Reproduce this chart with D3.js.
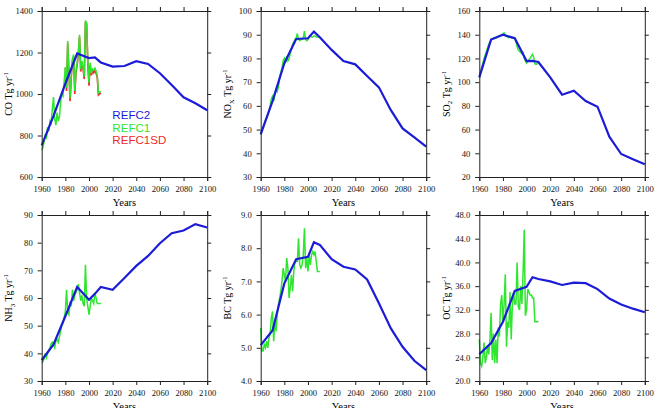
<!DOCTYPE html>
<html>
<head>
<meta charset="utf-8">
<script src="https://cdn.jsdelivr.net/npm/d3@7"></script>
<style>
  body { margin: 0; background: #fff; }
  text { font-family: "Liberation Serif", "Times New Roman", serif; fill: #000; }
</style>
</head>
<body>
<svg id="chart" width="656" height="408"></svg>
<script>
// REFC2 scenario years (blue) and REFC1 / REFC1SD annual years
const refc2Years = [1960, 1970, 1980, 1990, 2000, 2005, 2010, 2020, 2030, 2040, 2050, 2060, 2070, 2080, 2090, 2100];
const refc1Years = d3.range(1960, 2011);
const refc1sdYears = d3.range(1980, 2011);

const coRefc2  = [752, 895, 1050, 1195, 1173, 1176, 1152, 1132, 1135, 1158, 1145, 1100, 1043, 984, 955, 922];
const coRefc1  = [730, 740, 770, 800, 790, 840, 820, 870, 860, 930,
                  985, 880, 850, 910, 870, 890, 960, 1000, 990, 1060,
                  1130, 1030, 1255, 1120, 980, 1090, 1170, 1190, 1015, 1110,
                  1150, 1200, 1285, 1120, 1160, 1130, 1085, 1350, 1345, 1160,
                  1055, 1150, 1100, 1120, 1115, 1125, 1110, 1090, 1005, 1010, 1012];
const coRefc1sd = [1125, 1015, 1245, 1110, 965, 1080, 1160, 1180, 1000, 1100,
                   1140, 1195, 1275, 1108, 1150, 1120, 1072, 1340, 1335, 1150,
                   1040, 1140, 1090, 1110, 1102, 1115, 1100, 1080, 995, 1000, 1005];

const noxRefc2 = [48, 62, 78, 88.2, 88.5, 91.3, 88.9, 83.6, 78.9, 77.5, 72.6, 67.8, 58.3, 50.5, 46.7, 42.8];
const noxRefc1 = [48, 49.5, 51, 52.5, 54, 55, 56.5, 58, 60, 63,
                  64, 62, 65, 67, 66, 68, 72, 74, 76, 79,
                  80, 78, 81, 79, 80, 82, 84, 86, 87, 88,
                  88.5, 90.5, 88, 87.5, 88, 88, 88.5, 91.5, 88, 87.5,
                  88, 89, 89.5, 89, 89, 89.5, 89.5, 89, 89, 89, 89];

const so2Refc2 = [104, 136, 140, 137, 117.8, 118, 117, 104, 89.4, 92.8, 84, 79.3, 54, 39.4, 34.9, 30.7];
const so2Refc1 = [104, 108, 112, 116, 120, 123, 126, 129, 132, 134,
                  136, 136.5, 137, 137.5, 137, 138, 138.5, 139, 139.5, 140,
                  140.5, 141.5, 140, 138.5, 138, 137.5, 138, 137.5, 137, 137,
                  136.5, 134, 130, 127, 126, 125, 124, 125, 120, 118,
                  116, 118, 119, 120, 122, 123.5, 121, 115.5, 115, 115.5, 116];

const nh3Refc2 = [37.5, 43.2, 53.4, 64, 59.4, 61.5, 64, 63, 67.2, 71.6, 75.2, 79.8, 83.4, 84.4, 86.7, 85.5];
const nh3Refc1 = [36.5, 37, 38, 40, 38.5, 40, 41, 42, 43.5, 44,
                  43, 42, 44.5, 45, 44, 46, 48, 50, 51, 53,
                  55, 63, 55, 54, 58, 57, 63, 59, 61, 62,
                  63, 65, 62, 59, 61, 58, 57, 72, 60, 57,
                  54, 57, 60, 59, 58, 62, 60, 58, 58, 58, 58];

const bcRefc2 = [5.08, 5.52, 6.94, 7.67, 7.74, 8.18, 8.1, 7.67, 7.44, 7.36, 7.06, 6.34, 5.59, 5.03, 4.61, 4.33];
const bcRefc1 = [5.6, 4.9, 4.9, 5.1, 5.0, 5.2, 5.0, 5.3, 5.4, 5.9,
                 6.1, 5.2, 5.8, 5.5, 6.0, 6.3, 6.5, 6.7, 7.0, 7.4,
                 7.2, 7.0, 7.7, 7.4, 6.5, 6.8, 7.2, 6.7, 7.3, 7.6,
                 7.6, 7.6, 8.3, 7.5, 7.4, 7.5, 7.8, 8.6, 7.4, 7.7,
                 7.3, 7.8, 7.5, 7.8, 7.9, 7.8, 7.9, 7.6, 7.3, 7.3, 7.3];

const ocRefc2 = [24.5, 26.4, 30, 35.2, 35.9, 37.5, 37.2, 36.8, 36.2, 36.6, 36.5, 35.5, 33.9, 32.9, 32.2, 31.6];
const ocRefc1 = [27, 23, 22.5, 24, 26.5, 23, 24, 26, 24.5, 27,
                 31.5, 23.5, 28, 23, 27, 23, 29, 27.5, 33, 34.5,
                 30, 33, 38, 25.8, 30, 29, 35, 27, 33, 35,
                 33, 33, 40, 32.5, 32, 36, 33, 38, 45.5, 31,
                 32, 35.5, 35, 34.5, 34.5, 34, 34, 30, 30, 30, 30];

const xTicks = d3.range(1960, 2101, 20);

const panels = [
  {name: 'CO',  sub: '',  yDomain: [600, 1400], yTicks: [600, 800, 1000, 1200, 1400], fmt: d3.format('d'),
   refc2: coRefc2, refc1: coRefc1, refc1sd: coRefc1sd, col: 0, row: 0, legend: true},
  {name: 'NO',  sub: 'X', yDomain: [30, 100], yTicks: d3.range(30, 101, 10), fmt: d3.format('d'),
   refc2: noxRefc2, refc1: noxRefc1, col: 1, row: 0},
  {name: 'SO',  sub: '2', yDomain: [20, 160], yTicks: d3.range(20, 161, 20), fmt: d3.format('d'),
   refc2: so2Refc2, refc1: so2Refc1, col: 2, row: 0},
  {name: 'NH',  sub: '3', yDomain: [30, 90], yTicks: d3.range(30, 91, 10), fmt: d3.format('d'),
   refc2: nh3Refc2, refc1: nh3Refc1, col: 0, row: 1},
  {name: 'BC',  sub: '',  yDomain: [4, 9], yTicks: d3.range(4, 9.01, 1), fmt: d3.format('.1f'),
   refc2: bcRefc2, refc1: bcRefc1, col: 1, row: 1},
  {name: 'OC',  sub: '',  yDomain: [20, 48], yTicks: d3.range(20, 48.01, 4), fmt: d3.format('.1f'),
   refc2: ocRefc2, refc1: ocRefc1, col: 2, row: 1}
];

const colLeft = [41.7, 260.7, 479.3];
const rowTop = [11, 215];
const w = 165.5;
const h = 166;

const blue = '#1c1cd8';
const green = '#2ee62e';
const red = '#ee2a2a';

const svg = d3.select('#chart');

panels.forEach(p => {
  const g = svg.append('g')
    .attr('transform', `translate(${colLeft[p.col]},${rowTop[p.row]})`);

  const x = d3.scaleLinear().domain([1960, 2100]).range([0, w]);
  const y = d3.scaleLinear().domain(p.yDomain).range([h, 0]);

  const line = d3.line().x(d => x(d[0])).y(d => y(d[1]));

  if (p.refc1sd) {
    g.append('path')
      .datum(d3.zip(refc1sdYears, p.refc1sd))
      .attr('d', line)
      .style('fill', 'none')
      .style('stroke', red)
      .style('stroke-width', 1.6);
  }

  g.append('path')
    .datum(d3.zip(refc1Years, p.refc1))
    .attr('d', line)
    .style('fill', 'none')
    .style('stroke', green)
    .style('stroke-width', 1.5);

  g.append('path')
    .datum(d3.zip(refc2Years, p.refc2))
    .attr('d', line)
    .style('fill', 'none')
    .style('stroke', blue)
    .style('stroke-width', 2.2);

  // axes on all four sides, ticks outward
  const tickFont = g => g.selectAll('text')
    .style('font-family', '"Liberation Serif", serif')
    .style('font-size', '8.6px')
    .style('fill', '#111');

  g.append('g')
    .attr('transform', `translate(0,${h})`)
    .call(d3.axisBottom(x).tickValues(xTicks).tickFormat(d3.format('d')).tickSize(4).tickPadding(5))
    .call(tickFont);

  g.append('g')
    .call(d3.axisTop(x).tickValues(xTicks).tickSize(4).tickFormat(''));

  g.append('g')
    .call(d3.axisLeft(y).tickValues(p.yTicks).tickFormat(p.fmt).tickSize(4).tickPadding(5))
    .call(tickFont);

  g.append('g')
    .attr('transform', `translate(${w},0)`)
    .call(d3.axisRight(y).tickValues(p.yTicks).tickSize(4).tickFormat(''));

  g.selectAll('.domain').style('stroke', '#222');
  g.selectAll('.tick line').style('stroke', '#222');

  // x title
  g.append('text')
    .attr('x', w / 2)
    .attr('y', h + 28.5)
    .attr('text-anchor', 'middle')
    .style('font-size', '10.5px')
    .text('Years');

  // y title
  const yt = g.append('text')
    .attr('transform', `translate(-29.5,${h / 2}) rotate(-90)`)
    .attr('text-anchor', 'middle')
    .style('font-size', '10px');
  yt.append('tspan').text(p.name);
  if (p.sub) {
    yt.append('tspan').attr('dy', 2.5).style('font-size', '7px').text(p.sub);
    yt.append('tspan').attr('dy', -2.5).text(' Tg yr');
  } else {
    yt.append('tspan').text(' Tg yr');
  }
  yt.append('tspan').attr('dy', -4).style('font-size', '6.5px').text('-1');

  if (p.legend) {
    const legend = [['REFC2', blue], ['REFC1', green], ['REFC1SD', red]];
    legend.forEach((d, i) => {
      g.append('text')
        .attr('x', 70.6)
        .attr('y', 108.3 + i * 12.4)
        .style('font-family', '"Liberation Sans", Arial, sans-serif')
        .style('font-size', '11.6px')
        .style('fill', d[1])
        .text(d[0]);
    });
  }
});
</script>
</body>
</html>
